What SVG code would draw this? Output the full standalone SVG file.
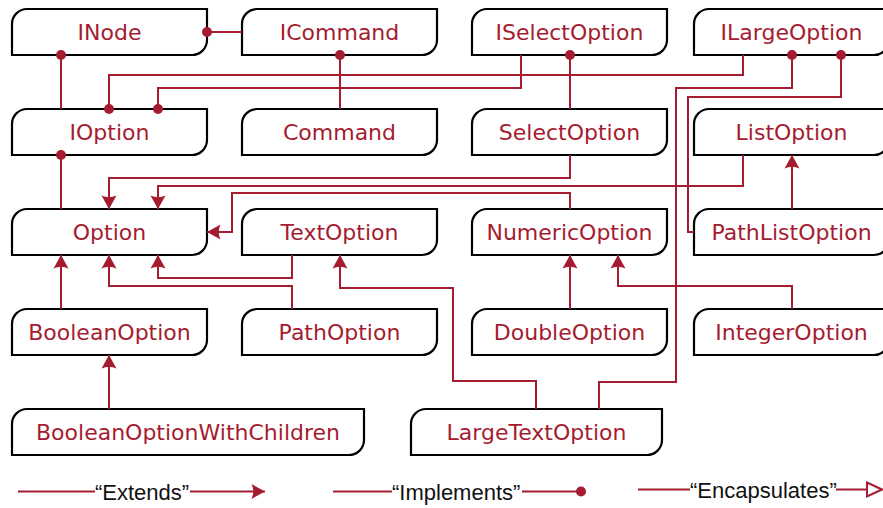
<svg xmlns="http://www.w3.org/2000/svg" width="883" height="508" viewBox="0 0 883 508">
<style>
.box{fill:#fff;stroke:#000;stroke-width:2.2}
.lbl{font-family:"DejaVu Sans",sans-serif;font-size:22px;fill:#a51c30;text-anchor:middle}
.leg{font-family:"Liberation Sans",Arial,sans-serif;font-size:22px;fill:#111}
.c{fill:none;stroke:#a51c30;stroke-width:2}
.ext{marker-end:url(#arr)}
.imp{marker-end:url(#dot)}
</style>
<defs>
<marker id="arr" markerUnits="userSpaceOnUse" markerWidth="20" markerHeight="20" viewBox="-15 -10 16 20" refX="0" refY="0" orient="auto" overflow="visible">
<path d="M0,0 L-13.5,-7.5 Q-10,0 -13.5,7.5 Z" fill="#a51c30"/>
</marker>
<marker id="dot" markerUnits="userSpaceOnUse" markerWidth="12" markerHeight="12" viewBox="-6 -6 12 12" refX="0" refY="0" orient="auto" overflow="visible">
<circle r="5" fill="#a51c30"/>
</marker>
</defs>

<g id="INode"><path class="box" d="M12,55 V24 A15,15 0 0 1 27,9 H207 V40 A15,15 0 0 1 192,55 Z"/><text class="lbl" x="109.5" y="39.5">INode</text></g>
<g id="ICommand"><path class="box" d="M242,55 V24 A15,15 0 0 1 257,9 H437 V40 A15,15 0 0 1 422,55 Z"/><text class="lbl" x="339.5" y="39.5">ICommand</text></g>
<g id="ISelectOption"><path class="box" d="M472,55 V24 A15,15 0 0 1 487,9 H667 V40 A15,15 0 0 1 652,55 Z"/><text class="lbl" x="569.5" y="39.5">ISelectOption</text></g>
<g id="ILargeOption"><path class="box" d="M694,55 V24 A15,15 0 0 1 709,9 H889 V40 A15,15 0 0 1 874,55 Z"/><text class="lbl" x="791.5" y="39.5">ILargeOption</text></g>

<g id="IOption"><path class="box" d="M12,155 V124 A15,15 0 0 1 27,109 H207 V140 A15,15 0 0 1 192,155 Z"/><text class="lbl" x="109.5" y="139.5">IOption</text></g>
<g id="Command"><path class="box" d="M242,155 V124 A15,15 0 0 1 257,109 H437 V140 A15,15 0 0 1 422,155 Z"/><text class="lbl" x="339.5" y="139.5">Command</text></g>
<g id="SelectOption"><path class="box" d="M472,155 V124 A15,15 0 0 1 487,109 H667 V140 A15,15 0 0 1 652,155 Z"/><text class="lbl" x="569.5" y="139.5">SelectOption</text></g>
<g id="ListOption"><path class="box" d="M694,155 V124 A15,15 0 0 1 709,109 H889 V140 A15,15 0 0 1 874,155 Z"/><text class="lbl" x="791.5" y="139.5">ListOption</text></g>

<g id="Option"><path class="box" d="M12,255 V224 A15,15 0 0 1 27,209 H207 V240 A15,15 0 0 1 192,255 Z"/><text class="lbl" x="109.5" y="239.5">Option</text></g>
<g id="TextOption"><path class="box" d="M242,255 V224 A15,15 0 0 1 257,209 H437 V240 A15,15 0 0 1 422,255 Z"/><text class="lbl" x="339.5" y="239.5">TextOption</text></g>
<g id="NumericOption"><path class="box" d="M472,255 V224 A15,15 0 0 1 487,209 H667 V240 A15,15 0 0 1 652,255 Z"/><text class="lbl" x="569.5" y="239.5">NumericOption</text></g>
<g id="PathListOption"><path class="box" d="M694,255 V224 A15,15 0 0 1 709,209 H889 V240 A15,15 0 0 1 874,255 Z"/><text class="lbl" x="791.5" y="239.5">PathListOption</text></g>

<g id="BooleanOption"><path class="box" d="M12,355 V324 A15,15 0 0 1 27,309 H207 V340 A15,15 0 0 1 192,355 Z"/><text class="lbl" x="109.5" y="339.5">BooleanOption</text></g>
<g id="PathOption"><path class="box" d="M242,355 V324 A15,15 0 0 1 257,309 H437 V340 A15,15 0 0 1 422,355 Z"/><text class="lbl" x="339.5" y="339.5">PathOption</text></g>
<g id="DoubleOption"><path class="box" d="M472,355 V324 A15,15 0 0 1 487,309 H667 V340 A15,15 0 0 1 652,355 Z"/><text class="lbl" x="569.5" y="339.5">DoubleOption</text></g>
<g id="IntegerOption"><path class="box" d="M694,355 V324 A15,15 0 0 1 709,309 H889 V340 A15,15 0 0 1 874,355 Z"/><text class="lbl" x="791.5" y="339.5">IntegerOption</text></g>

<g id="BooleanOptionWithChildren"><path class="box" d="M12,455 V424 A15,15 0 0 1 27,409 H364 V440 A15,15 0 0 1 349,455 Z"/><text class="lbl" x="188" y="439.5">BooleanOptionWithChildren</text></g>
<g id="LargeTextOption"><path class="box" d="M411,455 V424 A15,15 0 0 1 426,409 H662 V440 A15,15 0 0 1 647,455 Z"/><text class="lbl" x="536.5" y="439.5">LargeTextOption</text></g>

<g id="connectors">
<path class="c imp" d="M242,32 H207"/>
<path class="c imp" d="M61,109 V55"/>
<path class="c imp" d="M340,109 V55"/>
<path class="c imp" d="M521,55 V88 H158 V109"/>
<path class="c imp" d="M743,55 V75 H109 V109"/>
<path class="c imp" d="M570,109 V55"/>
<path class="c imp" d="M599,409 V382 H676 V88 H792 V55"/>
<path class="c imp" d="M694,232 H688 V97 H841 V55"/>
<path class="c imp" d="M61,209 V155"/>
<path class="c ext" d="M570,155 V178 H109 V209"/>
<path class="c ext" d="M743,155 V186 H158 V209"/>
<path class="c ext" d="M570,209 V193 H232 V232 H207"/>
<path class="c ext" d="M792,209 V155"/>
<path class="c ext" d="M61,309 V255"/>
<path class="c ext" d="M292,255 V278 H158 V255"/>
<path class="c ext" d="M292,309 V286 H109 V255"/>
<path class="c ext" d="M536,409 V381 H453 V288 H340 V255"/>
<path class="c ext" d="M570,309 V255"/>
<path class="c ext" d="M792,309 V286 H618 V255"/>
<path class="c ext" d="M109,409 V355"/>
</g>

<g id="legend">
<path class="c" d="M18,491.5 H95"/>
<text class="leg" x="95" y="499.5">“Extends”</text>
<path class="c ext" d="M190,491.5 H265"/>
<path class="c" d="M333,491.5 H392"/>
<text class="leg" x="392" y="499.5">“Implements”</text>
<path class="c imp" d="M522,491.5 H581"/>
<path class="c" d="M638,489.5 H690"/>
<text class="leg" x="690" y="497.5">“Encapsulates”</text>
<path class="c" d="M836,489.5 H867"/>
<path d="M867,482.5 L882,489.5 L867,496.5 Z" fill="#fff" stroke="#a51c30" stroke-width="2"/>
</g>
</svg>
